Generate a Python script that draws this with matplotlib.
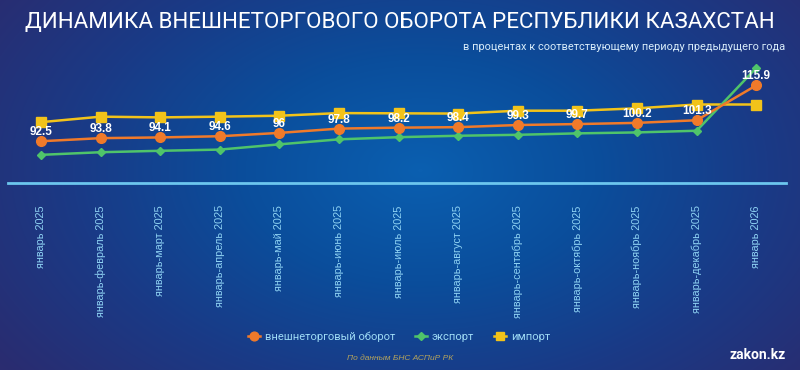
import numpy as np
import matplotlib
matplotlib.use('Agg')
import matplotlib.pyplot as plt
from matplotlib.colors import LinearSegmentedColormap

# data
periods = ['январь 2025', 'январь-февраль 2025', 'январь-март 2025', 'январь-апрель 2025',
           'январь-май 2025', 'январь-июнь 2025', 'январь-июль 2025', 'январь-август 2025',
           'январь-сентябрь 2025', 'январь-октябрь 2025', 'январь-ноябрь 2025',
           'январь-декабрь 2025', 'январь 2026']
turnover = [92.5, 93.8, 94.1, 94.6, 96.0, 97.8, 98.2, 98.4, 99.3, 99.7, 100.2, 101.3, 115.9]
export = [86.8, 87.9, 88.5, 89.0, 91.2, 93.3, 94.2, 94.8, 95.2, 95.8, 96.2, 96.9, 123.2]
imports = [100.5, 102.8, 102.5, 102.8, 103.2, 104.3, 104.2, 104.1, 105.3, 105.3, 106.3, 107.9, 107.9]

W, H = 800, 370
fig = plt.figure(figsize=(W / 100, H / 100), dpi=100)

# background gradient
bg = fig.add_axes([0, 0, 1, 1])
yy, xx = np.mgrid[0:H, 0:W]
d = np.sqrt(((xx - 420) / 520.0) ** 2 + ((yy - 170) / 330.0) ** 2)
d = np.clip(d, 0, 1)
cmap = LinearSegmentedColormap.from_list('bg', ['#0b5fb0', '#0a4e9c', '#1a3a86', '#2a2c70'])
bg.imshow(d, cmap=cmap, aspect='auto', extent=[0, W, H, 0])
bg.set_axis_off()

ax = fig.add_axes([8 / W, (H - 183) / H, 778 / W, (183 - 63.7) / H])
ax.patch.set_alpha(0)
x = np.arange(len(periods))

ax.plot(x, imports, color='#f2c31a', lw=1.8, marker='s', ms=6.5, label='импорт', zorder=3)
ax.plot(x, export, color='#4fc46a', lw=1.8, marker='D', ms=4.5, label='экспорт', zorder=4)
ax.plot(x, turnover, color='#f07a2a', lw=1.8, marker='o', ms=7, label='внешнеторговый оборот', zorder=5)

for xi, v in zip(x, turnover):
    txt = f'{v:g}'
    ax.annotate(txt, (xi, v), xytext=(0, 6.5), textcoords='offset points', ha='center', va='center',
                color='white', fontsize=8.5, fontweight='bold', family='Liberation Sans', zorder=6)

ax.set_xlim(-0.554, 12.5)
ax.set_ylim(75, 125)
ax.set_xticks(x)
ax.set_xticklabels(periods, rotation=90, va='top', ha='center', color='#8fd3f4',
                   fontsize=7.8, family='Liberation Sans')
ax.tick_params(axis='x', length=0, pad=16)
ax.set_yticks([])
for s in ['top', 'right', 'left']:
    ax.spines[s].set_visible(False)
ax.spines['bottom'].set_color('#6cc6ee')
ax.spines['bottom'].set_linewidth(2)

fig.text(400 / W, 1 - 22 / H, 'ДИНАМИКА ВНЕШНЕТОРГОВОГО ОБОРОТА РЕСПУБЛИКИ КАЗАХСТАН',
         ha='center', va='center', color='white', fontsize=16.1, family='Roboto')
fig.text(785 / W, 1 - 47 / H, 'в процентах к соответствующему периоду предыдущего года',
         ha='right', va='center', color='#d8ecfa', fontsize=7.9, family='Roboto')

h, l = ax.get_legend_handles_labels()
order = [2, 1, 0]
leg = fig.legend([h[i] for i in order], [l[i] for i in order], loc='center',
                 bbox_to_anchor=(399 / W, 1 - 337 / H), ncol=3, frameon=False,
                 handlelength=1.1, columnspacing=1.8, handletextpad=0.4,
                 prop={'family': 'Roboto', 'size': 8}, labelcolor='#9fdcf6', markerscale=0.9)

fig.text(400 / W, 1 - 358 / H, 'По данным БНС АСПиР РК', ha='center', va='center',
         color='#b5a45c', fontsize=6, style='italic', family='Liberation Sans')
fig.text(786 / W, 1 - 355 / H, 'zakon.kz', ha='right', va='center', color='white',
         fontsize=10, fontweight='bold', family='Roboto')

fig.savefig('out.png', dpi=100)
